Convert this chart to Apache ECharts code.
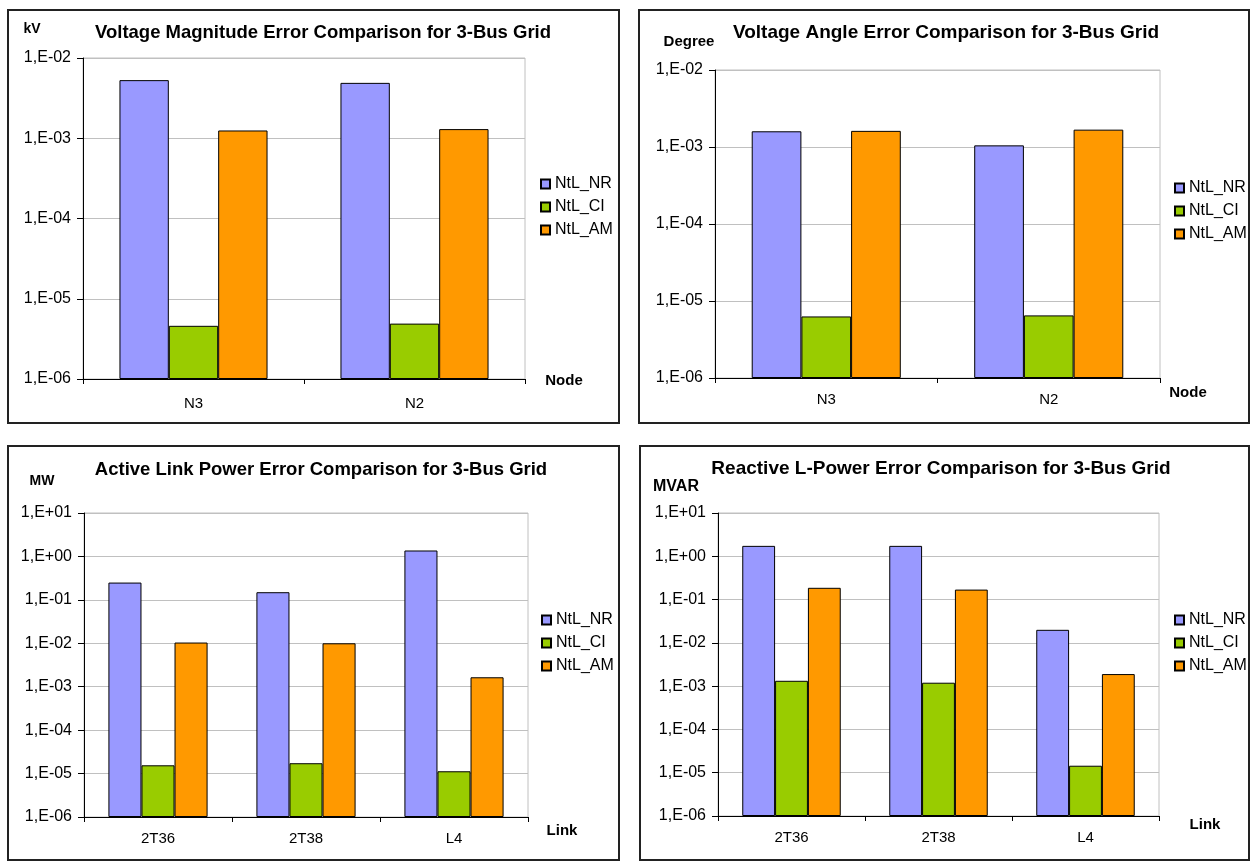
<!DOCTYPE html>
<html>
<head>
<meta charset="utf-8">
<script src="https://cdn.jsdelivr.net/npm/echarts@6/dist/echarts.min.js"></script>
<style>
  html, body { margin: 0; padding: 0; background: #fff; }
  #chart { width: 1255px; height: 866px; }
</style>
</head>
<body>
<div id="chart"></div>
<script>
// ---- data ----
const seriesNames = ['NtL_NR', 'NtL_CI', 'NtL_AM'];

const nodeCategories = ['N3', 'N2'];
const linkCategories = ['2T36', '2T38', 'L4'];

// Voltage magnitude error [kV]
const vmagNR = [5.3e-3, 4.9e-3];
const vmagCI = [4.6e-6, 4.9e-6];
const vmagAM = [1.25e-3, 1.3e-3];

// Voltage angle error [degree]
const vangNR = [1.6e-3, 1.05e-3];
const vangCI = [6.3e-6, 6.5e-6];
const vangAM = [1.62e-3, 1.68e-3];

// Active link power error [MW]
const pNR = [0.25, 0.15, 1.37];
const pCI = [1.55e-5, 1.73e-5, 1.13e-5];
const pAM = [1.04e-2, 1.0e-2, 1.65e-3];

// Reactive link power error [MVAR]
const qNR = [1.74, 1.74, 2.0e-2];
const qCI = [1.33e-3, 1.2e-3, 1.45e-5];
const qAM = [0.187, 0.17, 1.9e-3];

// ---- styling ----
const FONT = '"Liberation Sans", Arial, Helvetica, sans-serif';
const seriesColors = ['#9999ff', '#99cc00', '#ff9900'];

// "1,E-02" style labels
function sciLabel(v) {
  const e = Math.round(Math.log10(v));
  const a = Math.abs(e);
  return '1,E' + (e < 0 ? '-' : '+') + (a < 10 ? '0' : '') + a;
}

const panels = [
  {
    box: [8, 10, 611, 413],
    grid: { left: 83, top: 58, width: 442, height: 321 },
    title: { text: 'Voltage Magnitude Error Comparison for 3-Bus Grid', x: 323, y: 33, size: 18.5 },
    unit: { text: 'kV', x: 32, y: 29, size: 14 },
    axisName: { text: 'Node', x: 564, y: 381 },
    catMargin: 17,
    legendPos: { left: 540, top: 176 },
    range: [1e-6, 1e-2],
    categories: nodeCategories,
    values: [vmagNR, vmagCI, vmagAM]
  },
  {
    box: [639, 10, 610, 413],
    grid: { left: 715, top: 70, width: 445, height: 308 },
    title: { text: 'Voltage Angle Error Comparison for 3-Bus Grid', x: 946, y: 33, size: 19 },
    unit: { text: 'Degree', x: 689, y: 42, size: 15 },
    axisName: { text: 'Node', x: 1188, y: 393 },
    catMargin: 14,
    legendPos: { left: 1174, top: 180 },
    range: [1e-6, 1e-2],
    categories: nodeCategories,
    values: [vangNR, vangCI, vangAM]
  },
  {
    box: [8, 446, 611, 414],
    grid: { left: 84, top: 513, width: 444, height: 304 },
    title: { text: 'Active Link Power Error Comparison for 3-Bus Grid', x: 321, y: 470, size: 18.5 },
    unit: { text: 'MW', x: 42, y: 481, size: 14 },
    axisName: { text: 'Link', x: 562, y: 831 },
    catMargin: 14,
    legendPos: { left: 541, top: 612 },
    range: [1e-6, 10],
    categories: linkCategories,
    values: [pNR, pCI, pAM]
  },
  {
    box: [640, 446, 609, 414],
    grid: { left: 718, top: 513, width: 441, height: 303 },
    title: { text: 'Reactive L-Power Error Comparison for 3-Bus Grid', x: 941, y: 469, size: 19 },
    unit: { text: 'MVAR', x: 676, y: 487, size: 16 },
    axisName: { text: 'Link', x: 1205, y: 825 },
    catMargin: 14,
    legendPos: { left: 1174, top: 612 },
    range: [1e-6, 10],
    categories: linkCategories,
    values: [qNR, qCI, qAM]
  }
];

const option = {
  animation: false,
  textStyle: { fontFamily: FONT, color: '#000' },
  grid: [], xAxis: [], yAxis: [], series: [], legend: [], graphic: []
};

panels.forEach((p, i) => {
  // chart frame
  option.graphic.push({
    type: 'rect', silent: true,
    shape: { x: p.box[0], y: p.box[1], width: p.box[2], height: p.box[3] },
    style: { fill: 'none', stroke: '#222', lineWidth: 2 }
  });
  // chart title
  option.graphic.push({
    type: 'text', x: p.title.x, y: p.title.y,
    style: { text: p.title.text, fontFamily: FONT, fontSize: p.title.size, fontWeight: 'bold',
             fill: '#000', align: 'center', verticalAlign: 'middle' }
  });
  // value axis unit
  option.graphic.push({
    type: 'text', x: p.unit.x, y: p.unit.y,
    style: { text: p.unit.text, fontFamily: FONT, fontSize: p.unit.size, fontWeight: 'bold',
             fill: '#000', align: 'center', verticalAlign: 'middle' }
  });
  // category axis name
  option.graphic.push({
    type: 'text', x: p.axisName.x, y: p.axisName.y,
    style: { text: p.axisName.text, fontFamily: FONT, fontSize: 15, fontWeight: 'bold',
             fill: '#000', align: 'center', verticalAlign: 'middle' }
  });

  option.grid.push(Object.assign({
    show: true, borderColor: '#c0c0c0', borderWidth: 1, backgroundColor: 'transparent',
    containLabel: false
  }, p.grid));

  option.xAxis.push({
    type: 'category', gridIndex: i, data: p.categories,
    axisLine: { show: true, lineStyle: { color: '#000', width: 1 } },
    axisTick: { show: true, length: 5, inside: false, lineStyle: { color: '#000' } },
    axisLabel: { fontFamily: FONT, fontSize: 15, color: '#000', margin: p.catMargin },
    splitLine: { show: false }
  });

  option.yAxis.push({
    type: 'log', logBase: 10, gridIndex: i,
    min: p.range[0], max: p.range[1], startValue: p.range[0],
    axisLine: { show: true, lineStyle: { color: '#000', width: 1 } },
    axisTick: { show: true, length: 6, inside: false, lineStyle: { color: '#000' } },
    axisLabel: { fontFamily: FONT, fontSize: 16, color: '#000', margin: 12, formatter: sciLabel },
    splitLine: { show: true, lineStyle: { color: '#c0c0c0', width: 1 } },
    minorTick: { show: false }
  });

  seriesNames.forEach((name, k) => {
    option.series.push({
      type: 'bar', name: name, xAxisIndex: i, yAxisIndex: i,
      data: p.values[k],
      barGap: '0%', barCategoryGap: '33%',
      itemStyle: { color: seriesColors[k], borderColor: '#000', borderWidth: 1 }
    });
  });

  option.legend.push({
    orient: 'vertical', left: p.legendPos.left, top: p.legendPos.top, padding: 0,
    data: seriesNames, icon: 'rect', itemWidth: 9, itemHeight: 9, itemGap: 7,
    textStyle: { fontFamily: FONT, fontSize: 16, color: '#000' }
  });
});

const chart = echarts.init(document.getElementById('chart'), null, { renderer: 'canvas' });
chart.setOption(option);
</script>
</body>
</html>
